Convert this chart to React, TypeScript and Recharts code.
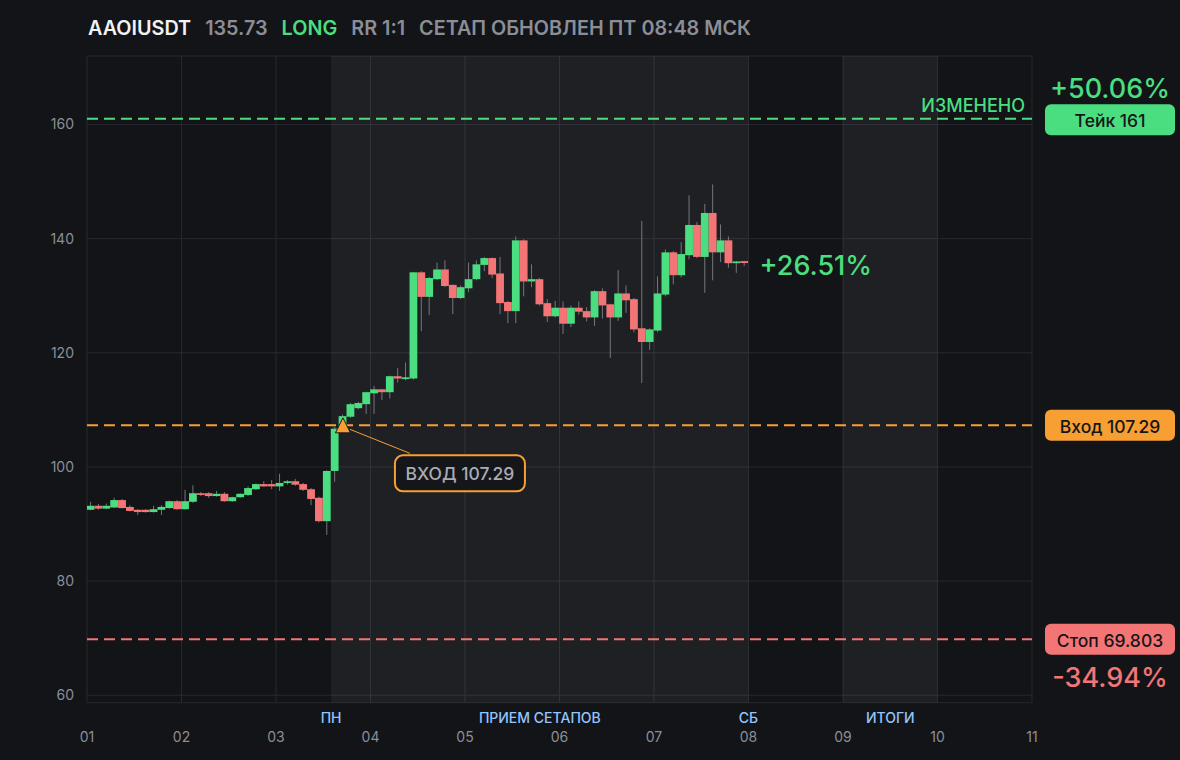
import {
  Bar,
  CartesianGrid,
  ComposedChart,
  ReferenceArea,
  ReferenceDot,
  ReferenceLine,
  XAxis,
  YAxis,
} from 'recharts';

const BG = '#131418';
const GRID = '#27282d';
const MUTED = '#8b8e97';
const GREEN = '#4ade80';
const RED = '#f47575';
const ORANGE = '#f89f33';
const SESSION = '#93c5fd';
const WICK = '#74767e';

const SYMBOL = 'AAOIUSDT';
const SIDE = 'LONG';
const RR = 'RR 1:1';
const UPDATED = 'СЕТАП ОБНОВЛЕН ПТ 08:48 МСК';
const LAST_PRICE = 135.73;
const ENTRY = 107.29;
const TAKE = 161;
const STOP = 69.803;
const ENTRY_CANDLE = 32;

// 2h candles, 12 per day
const opens = [
  92.5, 93.2, 92.7, 92.9, 94.2, 93.0, 92.5, 92.5, 92.1, 92.5,
  92.8, 94.0, 92.6, 93.9, 95.4, 95.4, 94.9, 95.3, 94.0, 94.7,
  95.1, 96.1, 97.0, 97.0, 96.6, 97.2, 97.5, 97.0, 96.1, 94.6,
  90.5, 99.3, 106.9, 108.8, 110.3, 111.0, 112.9, 113.6, 113.1, 115.9,
  115.4, 115.5, 134.1, 129.8, 132.9, 134.6, 131.9, 129.6, 131.3, 132.9,
  135.4, 136.6, 133.9, 128.9, 127.3, 139.7, 132.5, 132.9, 128.7, 126.4,
  127.9, 125.1, 127.9, 127.3, 126.2, 130.8, 128.5, 126.2, 130.4, 129.4,
  124.3, 121.9, 123.9, 130.2, 137.6, 133.6, 137.1, 142.4, 136.8, 144.5,
  137.6, 139.7, 135.7, 136.06,
];
const closes = [
  93.2, 92.7, 93.2, 94.2, 92.8, 92.3, 92.1, 92.1, 92.6, 93.0,
  94.0, 92.6, 94.0, 95.4, 95.1, 94.9, 95.3, 94.0, 94.7, 95.3,
  96.3, 97.0, 96.6, 96.6, 97.2, 97.5, 96.9, 96.0, 94.4, 90.5,
  99.3, 106.7, 108.9, 111.0, 111.2, 113.1, 113.6, 113.1, 115.9, 115.5,
  115.7, 134.1, 129.8, 133.1, 134.6, 131.7, 129.6, 131.5, 132.9, 135.5,
  136.6, 133.7, 128.7, 127.3, 139.7, 132.5, 132.9, 128.5, 126.4, 127.9,
  125.1, 127.9, 127.2, 126.2, 130.8, 128.3, 126.2, 130.4, 129.2, 124.1,
  121.9, 124.1, 130.4, 137.6, 133.6, 137.3, 142.4, 136.8, 144.5, 137.6,
  139.7, 135.7, 136.0, 135.73,
];
const highs = [
  93.9, 93.5, 93.6, 94.6, 94.4, 93.3, 92.6, 92.6, 93.2, 93.3,
  94.1, 94.2, 96.0, 96.8, 95.6, 95.6, 95.8, 95.6, 94.8, 95.4,
  96.6, 97.1, 97.5, 97.7, 98.8, 97.7, 97.9, 97.2, 96.3, 94.8,
  99.4, 107.0, 109.2, 111.2, 111.4, 113.2, 114.2, 113.7, 116.0, 117.3,
  118.3, 134.2, 134.3, 133.3, 135.8, 136.2, 132.0, 131.8, 135.8, 136.2,
  136.8, 136.7, 136.8, 129.1, 140.4, 139.9, 135.5, 133.1, 129.4, 129.1,
  129.0, 128.3, 129.0, 128.0, 131.0, 131.3, 128.6, 134.5, 131.8, 129.6,
  143.1, 124.3, 133.4, 138.1, 137.8, 139.4, 147.6, 142.9, 146.1, 149.5,
  142.5, 140.4, 136.1, 136.1,
];
const lows = [
  92.4, 92.5, 92.6, 92.8, 92.7, 92.2, 91.6, 92.0, 92.0, 91.6,
  92.7, 92.5, 92.5, 93.7, 94.9, 94.6, 94.8, 93.9, 93.9, 94.6,
  94.9, 96.0, 96.5, 96.1, 95.8, 96.9, 96.7, 95.8, 93.3, 90.3,
  88.1, 97.4, 106.6, 108.6, 110.1, 109.3, 109.3, 111.7, 112.0, 114.8,
  115.2, 115.3, 123.8, 126.6, 132.7, 131.5, 126.8, 129.4, 130.6, 132.7,
  134.3, 133.1, 126.8, 125.2, 125.2, 129.9, 131.5, 128.3, 125.4, 126.2,
  123.3, 124.5, 126.7, 125.5, 124.7, 126.0, 119.1, 125.6, 127.0, 123.6,
  114.7, 120.5, 123.6, 129.9, 132.0, 133.2, 136.4, 136.6, 130.5, 132.7,
  135.9, 134.9, 134.0, 135.2,
];

const dayTicks = [1, 2, 3, 4, 5, 6, 7, 8, 9, 10, 11];
const priceTicks = [60, 80, 100, 120, 140, 160];
const sessionMarks = [3.5833, 5.7917, 8, 9.5];
const sessionLabels = ['ПН', 'ПРИЕМ СЕТАПОВ', 'СБ', 'ИТОГИ'];
const bands = [
  [3.5833, 8],
  [9, 10],
];

const CANDLES_PER_DAY = 12;
const candles = opens.map((open, i) => ({
  t: 1 + (i + 0.5) / CANDLES_PER_DAY,
  open,
  close: closes[i],
  high: highs[i],
  low: lows[i],
  range: [lows[i], highs[i]],
}));

const pct = (v: number) => {
  const p = ((v - ENTRY) / ENTRY) * 100;
  return `${p >= 0 ? '+' : ''}${p.toFixed(2)}%`;
};

function Candle(props: any) {
  const { x, y, width, height, payload } = props;
  if (!payload) return null;
  const { open, close, high, low } = payload;
  const top = Math.min(y, y + height);
  const span = Math.abs(height);
  const toY = (v: number) => top + ((high - v) / (high - low)) * span;
  const cx = x + width / 2;
  const bodyTop = toY(Math.max(open, close));
  const bodyH = Math.max(1.5, toY(Math.min(open, close)) - bodyTop);
  return (
    <g>
      <line x1={cx} x2={cx} y1={top} y2={top + span} stroke={WICK} strokeWidth={1} />
      <rect x={cx - 3.9} y={bodyTop} width={7.8} height={bodyH} fill={close >= open ? GREEN : RED} />
    </g>
  );
}

function Badge({ x, y, text, fill }: { x: number; y: number; text: string; fill: string }) {
  return (
    <g>
      <rect x={x} y={y - 15.5} width={130} height={31} rx={6} fill={fill} />
      <text x={x + 65} y={y + 1} textAnchor="middle" dominantBaseline="central" fontSize={17.5} fontWeight={500} fill="#15161a">
        {text}
      </text>
    </g>
  );
}

const takeLabel = (p: any) => {
  const right = p.viewBox.x + p.viewBox.width;
  const y = p.viewBox.y;
  return (
    <g>
      <text x={right - 7} y={y - 7} textAnchor="end" fontSize={18} fontWeight={500} fill={GREEN}>
        ИЗМЕНЕНО
      </text>
      <text x={right + 78} y={y - 21} textAnchor="middle" fontSize={27} fontWeight={500} fill={GREEN}>
        {pct(TAKE)}
      </text>
      <Badge x={right + 13} y={y + 1} text={`Тейк ${TAKE}`} fill={GREEN} />
    </g>
  );
};

const entryLabel = (p: any) => (
  <Badge x={p.viewBox.x + p.viewBox.width + 13} y={p.viewBox.y} text={`Вход ${ENTRY}`} fill={ORANGE} />
);

const stopLabel = (p: any) => {
  const right = p.viewBox.x + p.viewBox.width;
  const y = p.viewBox.y;
  return (
    <g>
      <Badge x={right + 13} y={y} text={`Стоп ${STOP}`} fill={RED} />
      <text x={right + 78} y={y + 48} textAnchor="middle" fontSize={27} fontWeight={500} fill={RED}>
        {pct(STOP)}
      </text>
    </g>
  );
};

const sessionLabel = (text: string) => (p: any) => (
  <text
    x={p.viewBox.x}
    y={p.viewBox.y + p.viewBox.height + 15}
    textAnchor="middle"
    dominantBaseline="central"
    fontSize={14}
    fontWeight={500}
    fill={SESSION}
  >
    {text}
  </text>
);

const EntryMarker = (p: any) => {
  const { cx, cy } = p;
  return (
    <g>
      <line x1={cx + 7} y1={cy + 4} x2={cx + 67} y2={cy + 28} stroke={ORANGE} strokeWidth={1} />
      <rect x={cx + 52} y={cy + 30} width={130} height={36} rx={8} fill="#15161a" stroke={ORANGE} strokeWidth={2} />
      <text x={cx + 117} y={cy + 48} textAnchor="middle" dominantBaseline="central" fontSize={17.5} fontWeight={500} fill="#a9acb4">
        ВХОД {ENTRY}
      </text>
      <polygon points={`${cx},${cy - 7.5} ${cx - 7.5},${cy + 7.5} ${cx + 7.5},${cy + 7.5}`} fill={ORANGE} stroke="#1a1a1a" strokeWidth={1} />
    </g>
  );
};

const LastMarker = (p: any) => (
  <text x={p.cx + 15} y={p.cy + 2} dominantBaseline="central" fontSize={27} fontWeight={500} fill={GREEN}>
    {pct(LAST_PRICE)}
  </text>
);

const DayTick = (p: any) => (
  <text x={p.x} y={p.y + 34} textAnchor="middle" dominantBaseline="central" fontSize={14} fill={MUTED}>
    {String(p.payload.value).padStart(2, '0')}
  </text>
);

export default function App() {
  const last = candles[candles.length - 1];
  return (
    <div
      style={{
        position: 'fixed',
        left: 0,
        top: 0,
        width: 1180,
        height: 760,
        background: BG,
        fontFamily: 'Inter, "Noto Sans", sans-serif',
      }}
    >
      <div
        style={{
          position: 'absolute',
          left: 88,
          top: 16,
          display: 'flex',
          gap: 14,
          fontSize: 19.8,
          fontWeight: 600,
          lineHeight: '24px',
          color: MUTED,
          whiteSpace: 'nowrap',
        }}
      >
        <span style={{ color: '#f1f2f4' }}>{SYMBOL}</span>
        <span>{LAST_PRICE}</span>
        <span style={{ color: GREEN }}>{SIDE}</span>
        <span>{RR}</span>
        <span>{UPDATED}</span>
      </div>
      <ComposedChart
        width={1180}
        height={760}
        data={candles}
        margin={{ top: 56, right: 148, bottom: 0, left: 0 }}
      >
        <CartesianGrid stroke={GRID} />
        {bands.map(([a, b]) => (
          <ReferenceArea key={a} x1={a} x2={b} fill="#ffffff" fillOpacity={0.055} stroke="none" ifOverflow="visible" />
        ))}
        <XAxis
          dataKey="t"
          type="number"
          domain={[1, 11]}
          ticks={dayTicks}
          allowDataOverflow
          axisLine={false}
          tickLine={false}
          tickSize={0}
          tickMargin={0}
          height={57.3}
          tick={<DayTick />}
          interval={0}
        />
        <YAxis
          type="number"
          domain={[58.7, 172]}
          ticks={priceTicks}
          allowDataOverflow
          axisLine={false}
          tickLine={false}
          tickMargin={7}
          width={87}
          tick={{ fill: MUTED, fontSize: 14 }}
          interval={0}
        />
        {sessionMarks.map((t, i) => (
          <ReferenceLine key={sessionLabels[i]} x={t} stroke="none" label={sessionLabel(sessionLabels[i])} />
        ))}
        <Bar dataKey="range" shape={<Candle />} isAnimationActive={false} barSize={8} />
        <ReferenceLine y={TAKE} stroke={GREEN} strokeWidth={2} strokeDasharray="11 6" label={takeLabel} />
        <ReferenceLine y={ENTRY} stroke={ORANGE} strokeWidth={2} strokeDasharray="11 6" label={entryLabel} />
        <ReferenceLine y={STOP} stroke={RED} strokeWidth={2} strokeDasharray="11 6" label={stopLabel} />
        <ReferenceDot x={candles[ENTRY_CANDLE].t} y={ENTRY} r={0} shape={EntryMarker} ifOverflow="visible" />
        <ReferenceDot x={last.t} y={LAST_PRICE} r={0} shape={LastMarker} ifOverflow="visible" />
      </ComposedChart>
    </div>
  );
}
